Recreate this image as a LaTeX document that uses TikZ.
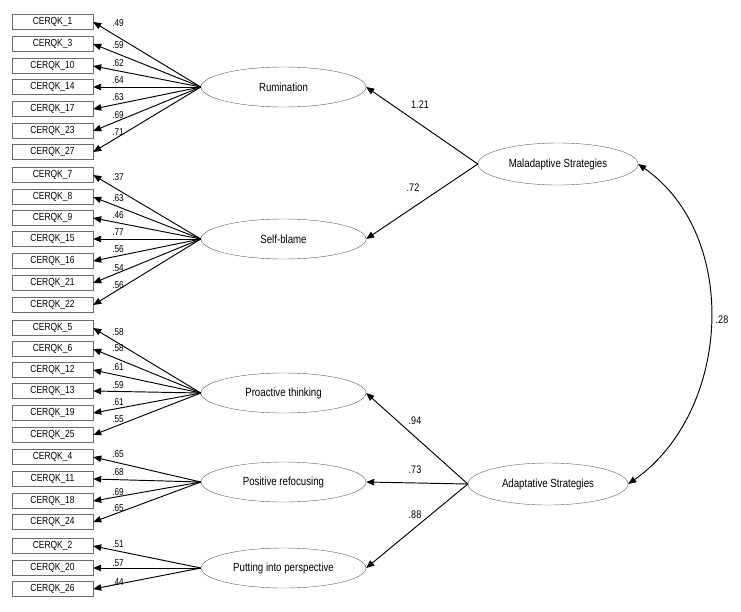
\documentclass[tikz,border=0pt]{standalone}
\usepackage{fontspec}
\setmainfont{Liberation Sans}[FakeStretch=0.82]
\usetikzlibrary{arrows.meta,shapes.geometric}
\begin{document}
\begin{tikzpicture}[x=1pt,y=1pt,
  obs/.style={draw=gray!85!black, minimum width=81pt, minimum height=15pt, inner sep=0pt, font=\fontsize{10.3}{11}\selectfont},
  lat/.style={ellipse, draw=gray!75!black, minimum width=165pt, minimum height=40pt, inner sep=0pt, font=\fontsize{11.8}{13}\selectfont},
  hi/.style={lat, minimum width=160pt, minimum height=42pt},
  arr/.style={-{Triangle[length=8pt,width=6.5pt]}, line width=0.95pt},
  ld/.style={font=\fontsize{10}{11}\selectfont, inner sep=0pt},
  sl/.style={font=\fontsize{11}{12}\selectfont, inner sep=0pt}]
\useasboundingbox (0,0) rectangle (741,-611);
% observed indicators
\foreach \i/\y/\t in {1/22/CERQK\_1, 2/44/CERQK\_3, 3/66/CERQK\_10, 4/87/CERQK\_14, 5/109/CERQK\_17, 6/131/CERQK\_23, 7/152/CERQK\_27,
  8/175/CERQK\_7, 9/197/CERQK\_8, 10/218/CERQK\_9, 11/239/CERQK\_15, 12/261/CERQK\_16, 13/283/CERQK\_21, 14/305/CERQK\_22,
  15/328/CERQK\_5, 16/349/CERQK\_6, 17/370/CERQK\_12, 18/391/CERQK\_13, 19/413/CERQK\_19, 20/435/CERQK\_25,
  21/457/CERQK\_4, 22/479/CERQK\_11, 23/501/CERQK\_18, 24/522/CERQK\_24,
  25/546/CERQK\_2, 26/568/CERQK\_20, 27/589/CERQK\_26}
  \node[obs] (b\i) at (52.5,-\y) {\t};
% latent factors
\node[lat] (rum) at (283.5,-87) {Rumination};
\node[lat] (self) at (283.5,-239) {Self-blame};
\node[lat] (pro) at (283.5,-393) {Proactive thinking};
\node[lat] (pos) at (283.5,-482) {Positive refocusing};
\node[lat] (put) at (283.5,-568) {Putting into perspective};
\node[hi] (mal) at (558,-164) {Maladaptive Strategies};
\node[hi] (ada) at (548,-484) {Adaptative Strategies};
% loadings
\foreach \i/\y/\v in {1/23/.49, 2/45/.59, 3/63/.62, 4/80/.64, 5/97/.63, 6/115/.69, 7/132/.71}{
  \draw[arr] (rum.west) -- (b\i.east);
  \node[ld] (l\i) at (118,-\y) {\v};}
\foreach \i/\y/\v in {8/177/.37, 9/198/.63, 10/215/.46, 11/232/.77, 12/249/.56, 13/268/.54, 14/285/.56}{
  \draw[arr] (self.west) -- (b\i.east);
  \node[ld] (l\i) at (118,-\y) {\v};}
\foreach \i/\y/\v in {15/332/.58, 16/348/.58, 17/367/.61, 18/385/.59, 19/402/.61, 20/419/.55}{
  \draw[arr] (pro.west) -- (b\i.east);
  \node[ld] (l\i) at (118,-\y) {\v};}
\foreach \i/\y/\v in {21/454/.65, 22/472/.68, 23/492/.69, 24/508/.65}{
  \draw[arr] (pos.west) -- (b\i.east);
  \node[ld] (l\i) at (118,-\y) {\v};}
\foreach \i/\y/\v in {25/544/.51, 26/563/.57, 27/582/.44}{
  \draw[arr] (put.west) -- (b\i.east);
  \node[ld] (l\i) at (118,-\y) {\v};}
% second-order paths
\draw[arr] (mal.west) -- (rum.east);
\draw[arr] (mal.west) -- (self.east);
\draw[arr] (ada.west) -- (pro.east);
\draw[arr] (ada.west) -- (pos.east);
\draw[arr] (ada.west) -- (put.east);
\node[sl] (s1) at (420,-105) {1.21};
\node[sl] (s2) at (413,-188) {.72};
\node[sl] (s3) at (415,-421) {.94};
\node[sl] (s4) at (415,-470) {.73};
\node[sl] (s5) at (415,-515) {.88};
% covariance
\draw[{Triangle[length=8pt,width=6.5pt]}-{Triangle[length=8pt,width=6.5pt]}, line width=0.95pt]
  (mal.east) to[out=-35, in=35] (ada.east);
\node[sl] (c1) at (722,-320) {.28};
\end{tikzpicture}
\end{document}
